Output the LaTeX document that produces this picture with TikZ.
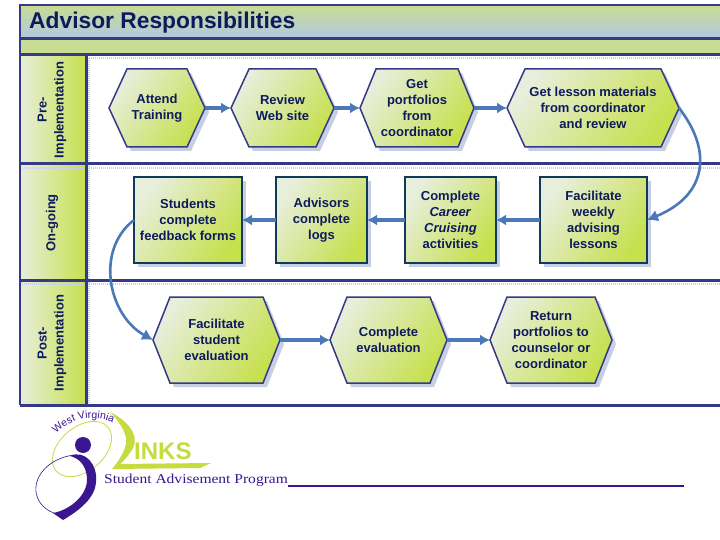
\documentclass[tikz,border=0pt]{standalone}
\usepackage{fontspec}
\setmainfont{Liberation Sans}
\newfontfamily\logoserif[FakeStretch=1.15]{Liberation Serif}
\usepackage{xcolor}
\usetikzlibrary{shadows,arrows.meta,decorations.text}
\definecolor{framenavy}{HTML}{343A86}
\definecolor{textnavy}{HTML}{0C1A5E}
\definecolor{palegreen}{HTML}{E8EEDC}
\definecolor{limegreen}{HTML}{C6E04E}
\definecolor{bandblue}{HTML}{B2C8E2}
\definecolor{bandgreen}{HTML}{C8DC92}
\definecolor{shadowblue}{HTML}{C6CFE4}
\definecolor{flowblue}{HTML}{4A78B8}
\definecolor{boxteal}{HTML}{0F3A5C}
\definecolor{logopurple}{HTML}{3A1690}
\definecolor{logogreen}{HTML}{C6DC3C}
\tikzset{
  steptext/.style={font=\bfseries\fontsize{13}{16}\selectfont,text=textnavy,align=center,inner sep=0pt,outer sep=0pt},
  stepfill/.style={left color=palegreen,middle color=limegreen!85!palegreen,right color=limegreen,shading angle=55},
  squarebox/.style={steptext,stepfill,draw=boxteal,line width=2.5pt,rectangle,minimum height=86pt,
    drop shadow={shadow xshift=4pt,shadow yshift=-4pt,fill=shadowblue,opacity=1}},
  flow/.style={flowblue,line width=4pt,-{Latex[length=10pt,width=11pt]}},
  flowcurve/.style={flowblue,line width=2.6pt,-{Latex[length=11pt,width=12pt]}},
  rowlabel/.style={font=\bfseries\fontsize{13}{17}\selectfont,text=textnavy,align=center,rotate=90,inner sep=0pt},
  rowline/.style={framenavy,line width=3pt},
  dotline/.style={shadowblue,line width=2.5pt,dash pattern=on 1pt off 1pt}
}
% name, centre x, centre y, half width, half height, inset, text
\newcommand{\hexstep}[7]{
  \fill[shadowblue] (#2-#4+4,#3+4) -- (#2-#4+#6+4,#3-#5+4) -- (#2+#4-#6+4,#3-#5+4) -- (#2+#4+4,#3+4) -- (#2+#4-#6+4,#3+#5+4) -- (#2-#4+#6+4,#3+#5+4) -- cycle;
  \shade[stepfill] (#2-#4,#3) -- (#2-#4+#6,#3-#5) -- (#2+#4-#6,#3-#5) -- (#2+#4,#3) -- (#2+#4-#6,#3+#5) -- (#2-#4+#6,#3+#5) -- cycle;
  \draw[framenavy,line width=1.5pt] (#2-#4,#3) -- (#2-#4+#6,#3-#5) -- (#2+#4-#6,#3-#5) -- (#2+#4,#3) -- (#2+#4-#6,#3+#5) -- (#2-#4+#6,#3+#5) -- cycle;
  \node[steptext,minimum width=2*#4 pt,minimum height=2*#5 pt] (#1) at (#2,#3) {#7};
}
\begin{document}
\begin{tikzpicture}[x=1pt,y=-1pt]
  \useasboundingbox (0,0) rectangle (720,540);
  \fill[white] (0,0) rectangle (720,540);
  \shade[top color=bandgreen,bottom color=bandblue] (20,5) rectangle (720,39);
  \fill[bandgreen] (20,39) rectangle (720,55);
  \shade[left color=palegreen,middle color=limegreen!80!palegreen,right color=limegreen] (20,55) rectangle (85,405);
  \draw[dotline] (89,58) -- (720,58);
  \draw[dotline] (89,168) -- (720,168);
  \draw[dotline] (89,284) -- (720,284);
  \draw[dotline] (89,58) -- (89,403);
  \draw[dotline] (22,168) -- (84,168);
  \draw[dotline] (22,284) -- (84,284);
  \draw[framenavy,line width=2pt] (720,5) -- (20,5) -- (20,405);
  \draw[rowline] (20,39) -- (720,39);
  \draw[rowline] (20,55) -- (720,55);
  \draw[rowline] (20,164) -- (720,164);
  \draw[rowline] (20,280) -- (720,280);
  \draw[rowline] (20,405) -- (720,405);
  \draw[rowline] (86,55) -- (86,405);

  \node[font=\bfseries\fontsize{22.8}{23}\selectfont,text=textnavy,anchor=base west,inner sep=0pt] (title) at (29,29) {Advisor Responsibilities};
  \node[rowlabel] (pre) at (52,110) {Pre-\\Implementation};
  \node[rowlabel] (ongoing) at (52,223) {On-going};
  \node[rowlabel] (post) at (52,343) {Post-\\Implementation};

  \hexstep{attend}{157}{108}{48}{39}{18}{Attend\\Training}
  \hexstep{review}{282.5}{108}{51.5}{39}{18}{Review\\Web site}
  \hexstep{portfolios}{417}{108}{57}{39}{16}{Get\\portfolios\\from\\coordinator}
  \hexstep{lesson}{593}{108}{86}{39}{18}{Get lesson materials\\from coordinator\\and review}

  \node[squarebox,minimum width=108pt] (feedback) at (188,220) {Students\\complete\\feedback forms};
  \node[squarebox,minimum width=91pt] (logs) at (321.5,220) {Advisors\\complete\\logs};
  \node[squarebox,minimum width=91pt] (career) at (450.5,220) {Complete\\\textit{Career}\\\textit{Cruising}\\activities};
  \node[squarebox,minimum width=107pt] (weekly) at (593.5,220) {Facilitate\\weekly\\advising\\lessons};

  \hexstep{student}{216.5}{340}{63.5}{43}{17}{Facilitate\\student\\evaluation}
  \hexstep{evaluation}{388.5}{340}{58.5}{43}{17}{Complete\\evaluation}
  \hexstep{return}{551}{340}{61}{43}{17}{Return\\portfolios to\\counselor or\\coordinator}

  \draw[flow] (attend.east) -- (review.west);
  \draw[flow] (review.east) -- (portfolios.west);
  \draw[flow] (portfolios.east) -- (lesson.west);
  \draw[flow] (weekly.west) -- (career.east);
  \draw[flow] (career.west) -- (logs.east);
  \draw[flow] (logs.west) -- (feedback.east);
  \draw[flow] (student.east) -- (evaluation.west);
  \draw[flow] (evaluation.east) -- (return.west);
  \draw[flowcurve] (lesson.east) .. controls (712,150) and (708,195) .. (weekly.east);
  \draw[flowcurve] (feedback.west) .. controls (95,250) and (108,315) .. (student.west);

  \draw[logogreen,line width=0.8pt,rotate around={40:(82,449)}] (82,449) ellipse (34 and 22);
  \fill[logopurple] (83,445) circle (8);
  \fill[logopurple] (70,456) .. controls (85,449) and (98,465) .. (96,482) .. controls (95,498) and (80,510) .. (63,520) -- (53,513) .. controls (70,510) and (88,495) .. (87,478) .. controls (86,464) and (78,458) .. (70,456) -- cycle;
  \draw[logopurple,line width=0.6pt] (74,455) .. controls (50,458) and (34,475) .. (36,492) .. controls (38,504) and (46,510) .. (54,513);
  \fill[logogreen] (110,412) .. controls (126,420) and (140,434) .. (133,448) .. controls (129,455) and (125,460) .. (120,464) -- (211,463) -- (200,468) -- (112,469) .. controls (118,462) and (128,448) .. (126,438) .. controls (124,428) and (116,418) .. (110,412) -- cycle;
  \node[font=\bfseries\fontsize{24}{24}\selectfont,text=logogreen,anchor=base west,inner sep=0pt] (links) at (134,459) {INKS};
  \node[font=\logoserif\fontsize{13.5}{14}\selectfont,text=logopurple,anchor=base west,inner sep=0pt] (program) at (104,483) {Student Advisement Program};
  \path[postaction={decorate,decoration={text along path,text align=center,
    text={|\fontsize{10.5}{10}\selectfont\color{logopurple}|West Virginia}}}] (54,437) .. controls (68,417) and (98,413) .. (116,425);
  \draw[logopurple,line width=1.2pt] (program.base east) ++(0,3) -- (684,486);
\end{tikzpicture}
\end{document}
